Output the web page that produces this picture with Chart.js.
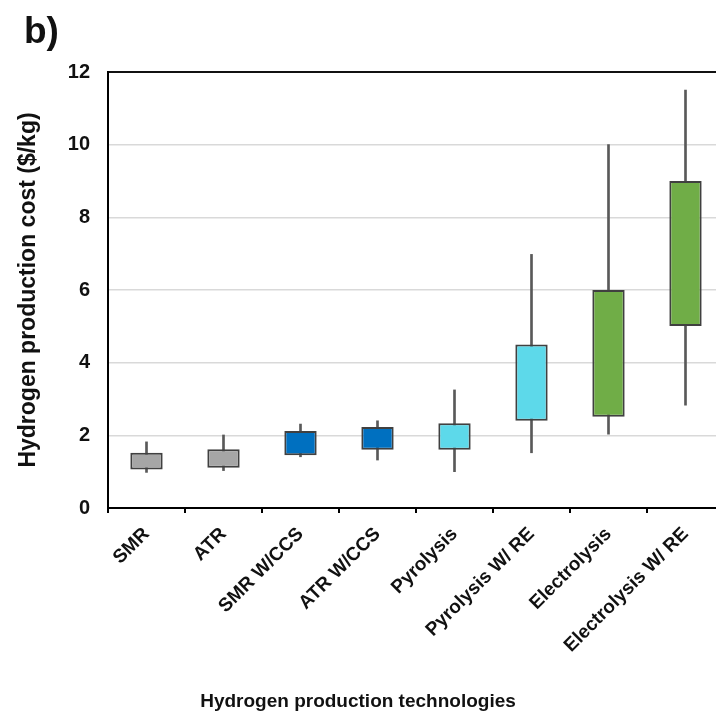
<!DOCTYPE html>
<html lang="en">
<head>
    <meta charset="utf-8"/>
    <script src="https://cdn.jsdelivr.net/npm/chart.js@4.4.1/dist/chart.umd.min.js"></script>
    <style>
        html, body { margin: 0; padding: 0; background: #fff; overflow: hidden; }
        #wrap { position: relative; width: 716px; height: 719px; overflow: hidden; font-family: "Liberation Sans", Arial, sans-serif; }
        #wrap canvas { position: absolute; left: 0; top: 0; }
        #panel { position: absolute; left: 24px; top: 12px; font-size: 37px; line-height: 37px; font-weight: bold; color: #111; }
        #xtitle { position: absolute; left: 0; top: 691px; width: 716px; text-align: center; font-size: 19px; line-height: 19px; font-weight: bold; color: #111; }
    </style>
</head>
<body>
    <div id="wrap">
        <canvas id="chart" width="740" height="719"></canvas>
        <div id="panel">b)</div>
        <div id="xtitle">Hydrogen production technologies</div>
    </div>
    <script>
        // technologies and cost ranges ($/kg)
        const technologies = ["SMR", "ATR", "SMR W/CCS", "ATR W/CCS", "Pyrolysis", "Pyrolysis W/ RE", "Electrolysis", "Electrolysis W/ RE"];
        const costMin = [0.98, 1.03, 1.41, 1.32, 1.00, 1.52, 2.03, 2.83];
        const costLow = [1.06, 1.11, 1.45, 1.60, 1.60, 2.40, 2.51, 5.01];
        const costHigh = [1.52, 1.62, 2.12, 2.23, 2.33, 4.50, 6.00, 9.00];
        const costMax = [1.82, 2.01, 2.31, 2.40, 3.25, 6.98, 10.00, 11.50];
        const boxColors = ["#a6a6a6", "#a6a6a6", "#0070c0", "#0070c0", "#5dd9ea", "#5dd9ea", "#70ad47", "#70ad47"];
        const yTicks = [0, 2, 4, 6, 8, 10, 12];

        const fontFamily = '"Liberation Sans", Arial, sans-serif';

        const boxes = {
            label: "Range",
            data: costLow.map((v, i) => [v, costHigh[i]]),
            backgroundColor: boxColors,
            borderColor: "#404040",
            borderWidth: 2,
            borderSkipped: false,
            barPercentage: 0.42,
            categoryPercentage: 1,
            grouped: false,
            order: 0
        };

        const whiskers = {
            label: "Min-max",
            data: costMin.map((v, i) => [v, costMax[i]]),
            backgroundColor: "#595959",
            borderWidth: 0,
            barThickness: 2,
            grouped: false,
            order: 1
        };

        new Chart(document.getElementById("chart"), {
            type: "bar",
            data: {
                labels: technologies,
                datasets: [boxes, whiskers]
            },
            options: {
                responsive: false,
                animation: false,
                layout: { padding: { left: 0, top: 72, right: 16, bottom: 0 } },
                plugins: {
                    legend: { display: false },
                    tooltip: { enabled: false }
                },
                scales: {
                    x: {
                        offset: true,
                        afterFit: function(scale) { scale.height = 211; },
                        border: { display: true, color: "#000", width: 2 },
                        grid: {
                            offset: true,
                            drawOnChartArea: false,
                            drawTicks: true,
                            tickLength: 5,
                            color: "#000",
                            lineWidth: 2
                        },
                        ticks: {
                            autoSkip: false,
                            minRotation: 45,
                            maxRotation: 45,
                            padding: 10,
                            color: "#111",
                            font: { family: fontFamily, size: 19, weight: "bold" }
                        }
                    },
                    y: {
                        min: 0,
                        max: 12,
                        afterFit: function(scale) { scale.width = 108; },
                        afterBuildTicks: function(scale) { scale.ticks = yTicks.map(v => ({ value: v })); },
                        border: { display: true, color: "#000", width: 2 },
                        grid: {
                            drawTicks: false,
                            color: ctx => (ctx.tick && ctx.tick.value === 12) ? "#111" : "#d9d9d9",
                            lineWidth: ctx => (ctx.tick && ctx.tick.value === 12) ? 2 : 1.5
                        },
                        ticks: {
                            padding: 18,
                            color: "#111",
                            font: { family: fontFamily, size: 20, weight: "bold" }
                        },
                        title: {
                            display: true,
                            text: "Hydrogen production cost ($/kg)",
                            color: "#111",
                            padding: { top: 15, bottom: 0 },
                            font: { family: fontFamily, size: 23, weight: "bold" }
                        }
                    }
                }
            }
        });
    </script>
</body>
</html>
